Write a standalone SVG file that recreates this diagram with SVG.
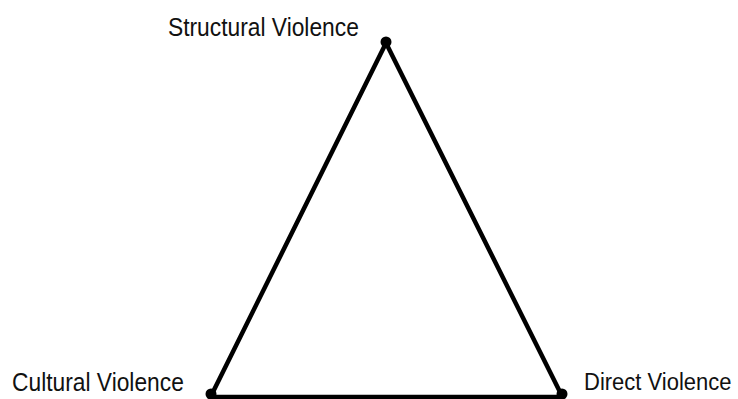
<svg xmlns="http://www.w3.org/2000/svg" width="738" height="399" viewBox="0 0 738 399">
<style>
.lbl{font-family:"Liberation Sans",Arial,sans-serif;font-size:22.8px;fill:#111}
.edge{stroke:#000;stroke-width:4.5;fill:none;stroke-linecap:round}
.dot{fill:#000}
</style>
<rect width="738" height="399" fill="#fff"/>
<g id="connectors">
<line class="edge" x1="386" y1="43" x2="211" y2="396"/>
<line class="edge" x1="386" y1="43" x2="562" y2="396"/>
<line class="edge" x1="211" y1="397" x2="562" y2="397"/>
</g>
<g id="structural">
<circle class="dot" cx="386" cy="42" r="5.5"/>
<text class="lbl" transform="translate(168,36) scale(1,1.1)" x="0" y="0">Structural Violence</text>
</g>
<g id="cultural">
<circle class="dot" cx="211" cy="394" r="5.5"/>
<text class="lbl" transform="translate(12,391) scale(1,1.1)" x="0" y="0">Cultural Violence</text>
</g>
<g id="direct">
<circle class="dot" cx="562" cy="394" r="5.5"/>
<text class="lbl" transform="translate(584,390) scale(1,1.12)" x="0" y="0" style="font-size:22px">Direct Violence</text>
</g>
</svg>
